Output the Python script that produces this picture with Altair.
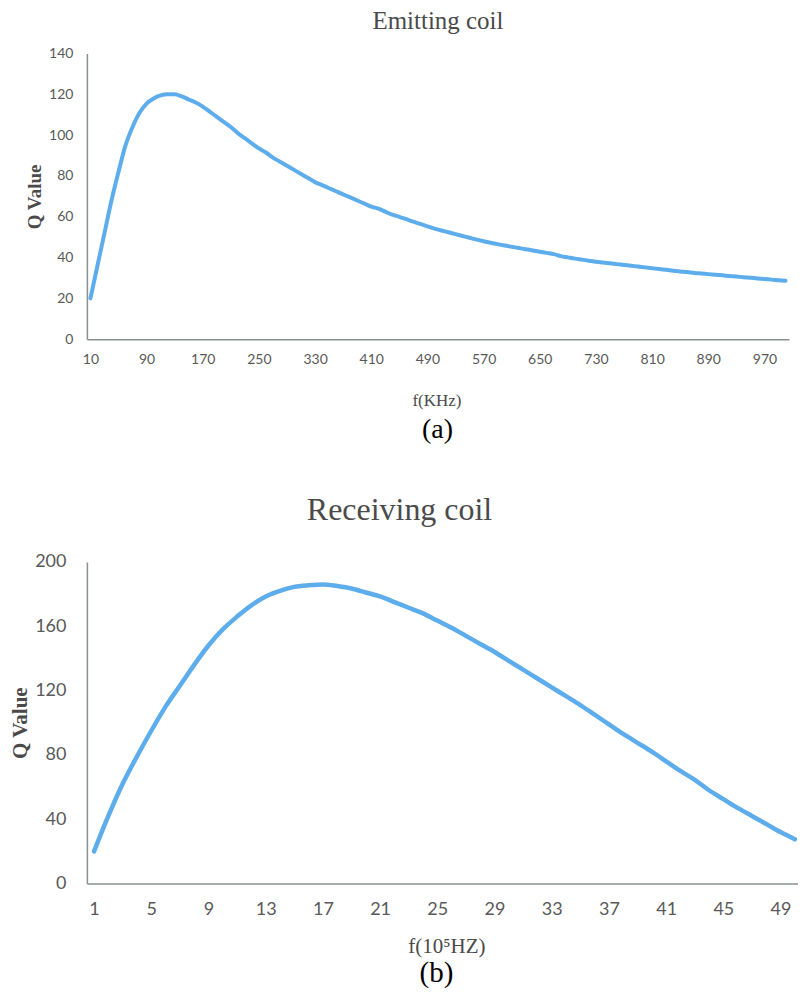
import altair as alt
import pandas as pd

# ---------------- data ----------------
emit_f = list(range(10, 1001, 10))
emit_q = [
    20, 36, 52, 68, 82, 95, 104, 111, 115.5, 118,
    119.5, 120, 120, 119, 117.5, 116, 114, 111.5, 109, 106.5,
    104, 101, 98.5, 96, 93.5, 91.5, 89, 87, 85, 83,
    81, 79, 77, 75.5, 74, 72.5, 71, 69.5, 68, 66.5,
    65, 64, 62.5, 61, 60, 58.8, 57.6, 56.5, 55.3, 54.2,
    53.3, 52.4, 51.5, 50.6, 49.7, 48.8, 48.0, 47.3, 46.6, 45.9,
    45.3, 44.7, 44.1, 43.5, 42.9, 42.3, 41.7, 40.7, 40.1, 39.5,
    39.0, 38.5, 38.0, 37.6, 37.2, 36.8, 36.4, 36.0, 35.6, 35.2,
    34.8, 34.4, 34.0, 33.6, 33.2, 32.9, 32.5, 32.2, 31.9, 31.6,
    31.3, 31.0, 30.7, 30.4, 30.1, 29.8, 29.5, 29.2, 28.9, 28.6,
]
emit_ticks = list(range(10, 1000, 80))
emit_yticks = [0, 20, 40, 60, 80, 100, 120, 140]

recv_f = list(range(1, 51))
recv_q = [
    20, 42, 62, 79, 95, 110, 123, 136, 148, 158,
    166, 173, 178.5, 182, 184.5, 185.5, 186, 185, 183.5, 181,
    178.5, 175, 171.5, 168, 163.5, 159, 154, 149, 144, 138.5,
    133, 127.5, 122, 116.5, 111, 105, 99, 93, 87.5, 82,
    76, 70, 64.5, 58, 52.5, 47, 42, 37, 32, 27.5,
]
recv_ticks = list(range(1, 50, 4))
recv_yticks = [0, 40, 80, 120, 160, 200]

SERIF = "Liberation Serif"
SANS = "Lato"
LINE = "#5DADEC"
AXC = "#8a8f90"
LBL = "#595959"
TTL = "#4a4a4a"

# ---------------- top panel ----------------
W1, H1 = 703, 286
top_df = pd.DataFrame({"f": emit_f, "q": emit_q})
top_line = alt.Chart(top_df).mark_line(
    color=LINE, strokeWidth=4, strokeCap="round", interpolate="monotone"
).encode(
    x=alt.X("f:Q", scale=alt.Scale(domain=[5, 1005], nice=False, zero=False),
            axis=alt.Axis(values=emit_ticks, title="f(KHz)", grid=False, ticks=False, tickSize=0,
                          labelPadding=13, labelFont=SANS, labelFontSize=14, labelColor=LBL,
                          labelFlush=False, labelOverlap=False,
                          domainColor=AXC, domainWidth=1.5,
                          titleFont=SERIF, titleFontSize=17, titleFontWeight="normal", titleColor=TTL,
                          titleX=350, titleY=61, titleBaseline="middle", titleAlign="center")),
    y=alt.Y("q:Q", scale=alt.Scale(domain=[0, 140], nice=False),
            axis=alt.Axis(values=emit_yticks, title="Q Value", grid=False, ticks=False, tickSize=0,
                          labelPadding=14, labelFont=SANS, labelFontSize=14, labelColor=LBL,
                          labelOverlap=False, labelFlush=False,
                          domainColor=AXC, domainWidth=1.5,
                          titleFont=SERIF, titleFontSize=19, titleFontWeight="bold", titleColor=TTL,
                          titleX=-52, titleY=143, titleAngle=270, titleBaseline="middle",
                          titleAlign="center")),
)
lab_a = alt.Chart(pd.DataFrame({"t": ["(a)"]})).mark_text(
    font=SERIF, fontSize=28, color="black", baseline="middle", align="center"
).encode(text="t:N", x=alt.value(351), y=alt.value(H1 + 91))

top = alt.layer(top_line, lab_a).properties(
    width=W1, height=H1,
    title=alt.Title("Emitting coil", font=SERIF, fontSize=25, fontWeight="normal", color=TTL,
                    anchor="middle", frame="group", offset=12.5),
)

# ---------------- bottom panel ----------------
W2, H2 = 716, 322
bot_df = pd.DataFrame({"f": recv_f, "q": recv_q})
bot_line = alt.Chart(bot_df).mark_line(
    color=LINE, strokeWidth=4.5, strokeCap="round", interpolate="monotone"
).encode(
    x=alt.X("f:Q", scale=alt.Scale(domain=[0.5, 50.5], nice=False, zero=False),
            axis=alt.Axis(values=recv_ticks, title="f(10⁵HZ)", grid=False, ticks=False, tickSize=0,
                          labelPadding=17, labelFont=SANS, labelFontSize=18, labelColor=LBL,
                          labelFlush=False, labelOverlap=False,
                          domainColor=AXC, domainWidth=1.5,
                          titleFont=SERIF, titleFontSize=21, titleFontWeight="normal", titleColor=TTL,
                          titleX=360, titleY=63, titleBaseline="middle", titleAlign="center")),
    y=alt.Y("q:Q", scale=alt.Scale(domain=[0, 200], nice=False),
            axis=alt.Axis(values=recv_yticks, title="Q Value", grid=False, ticks=False, tickSize=0,
                          labelPadding=21, labelFont=SANS, labelFontSize=18, labelColor=LBL,
                          labelOverlap=False, labelFlush=False,
                          domainColor=AXC, domainWidth=1.5,
                          titleFont=SERIF, titleFontSize=21, titleFontWeight="bold", titleColor=TTL,
                          titleX=-66, titleY=161, titleAngle=270, titleBaseline="middle",
                          titleAlign="center")),
)
lab_b = alt.Chart(pd.DataFrame({"t": ["(b)"]})).mark_text(
    font=SERIF, fontSize=29, color="black", baseline="middle", align="center"
).encode(text="t:N", x=alt.value(350), y=alt.value(H2 + 90))

bottom = alt.layer(bot_line, lab_b).properties(
    width=W2, height=H2,
    title=alt.Title("Receiving coil", font=SERIF, fontSize=32, fontWeight="normal", color=TTL,
                    anchor="middle", frame="group", offset=26, dx=-45),
)

chart = alt.vconcat(top, bottom, spacing=50).properties(
    padding={"top": 0, "bottom": -1, "left": 2, "right": -6}
).configure_view(stroke=None)

chart.save("out.html", embed_options={"renderer": "svg", "actions": False})
